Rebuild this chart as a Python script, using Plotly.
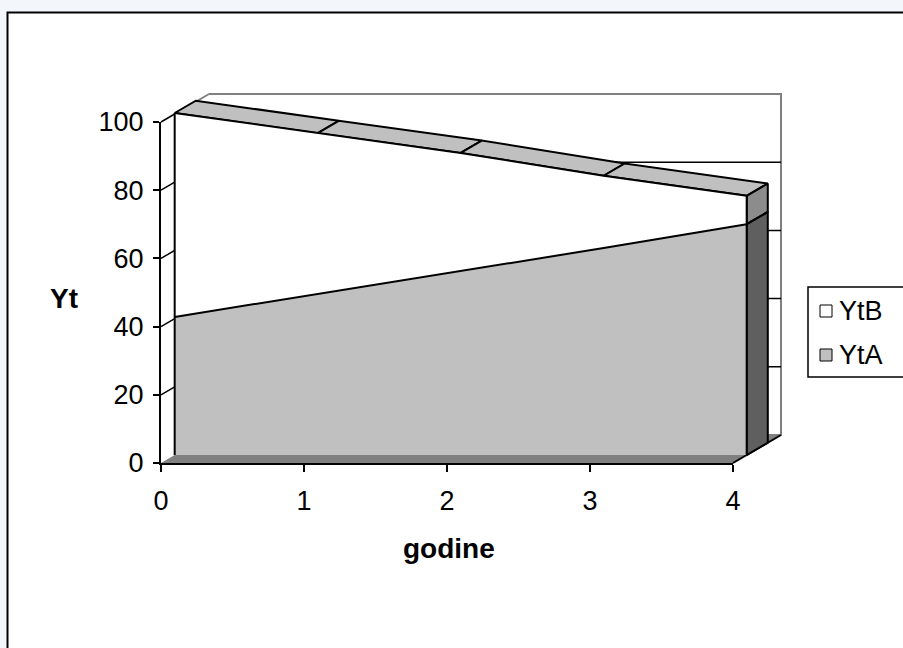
import plotly.graph_objects as go

# ---- data -------------------------------------------------------------
years = [0, 1, 2, 3, 4]
YtA = [40.5, 47.2, 53.8, 60.7, 67.7]
YtB = [59.8, 47.2, 34.8, 21.2, 8.3]
y_ticks = [0, 20, 40, 60, 80, 100]
series_names = ["YtB", "YtA"]

# ---- page geometry ----------------------------------------------------
W, H = 903, 648
AX_LEFT, AX_RIGHT = 161, 733      # category axis 0 .. 4
AX_BOTTOM, AX_TOP = 463, 122      # value axis 0 .. 100
SX = (AX_RIGHT - AX_LEFT) / (years[-1] - years[0])
SY = (AX_BOTTOM - AX_TOP) / (y_ticks[-1] - y_ticks[0])

# oblique depth vector of the 3-D box (full depth), in data units
DX = 48 / SX
DY = 28 / SY
D0, D1 = 0.285, 0.725             # front / back of the area series

LIGHT = "#c0c0c0"
SIDE_A = "#5f5f5f"
SIDE_B = "#8c8c8c"
FLOOR = "#808080"
WALL_EDGE = "#808080"

YMAX = y_ticks[-1]
X0, X1 = years[0], years[-1]
total = [a + b for a, b in zip(YtA, YtB)]


def P(x, y, d):
    return x + d * DX, y + d * DY


fig = go.Figure()


def poly(pts, fill):
    xs = [p[0] for p in pts] + [pts[0][0]]
    ys = [p[1] for p in pts] + [pts[0][1]]
    fig.add_trace(go.Scatter(x=xs, y=ys, mode="lines", fill="toself",
                             fillcolor=fill, line=dict(width=0),
                             hoverinfo="skip", showlegend=False))


def line(pts, color="black", width=2):
    fig.add_trace(go.Scatter(x=[p[0] for p in pts], y=[p[1] for p in pts],
                             mode="lines", line=dict(color=color, width=width),
                             hoverinfo="skip", showlegend=False))


# walls and floor
poly([P(X0, 0, 1), P(X1, 0, 1), P(X1, YMAX, 1), P(X0, YMAX, 1)], "white")
poly([P(X0, 0, 0), P(X0, 0, 1), P(X0, YMAX, 1), P(X0, YMAX, 0)], "white")
poly([P(X0, 0, 0), P(X1, 0, 0), P(X1, 0, 1), P(X0, 0, 1)], FLOOR)
line([P(X0, YMAX, 1), P(X1, YMAX, 1), P(X1, 0, 1), P(X0, 0, 1)], WALL_EDGE, 2)
line([P(X0, YMAX, D0), P(X0, YMAX, 1)], WALL_EDGE, 2)
line([P(X1, 0, 0), P(X1, 0, 1)], "black", 2)

# gridlines on the back wall and the side wall
for v in y_ticks[1:-1]:
    line([P(X0, v, 1), P(X1, v, 1)], "black", 1.5)
for v in y_ticks[1:]:
    line([P(X0, v, 0), P(X0, v, D0)], "black", 1.5)

# top surface of the stacked total
for i in range(len(years) - 1):
    pts = [P(years[i], total[i], D0), P(years[i + 1], total[i + 1], D0),
           P(years[i + 1], total[i + 1], D1), P(years[i], total[i], D1)]
    poly(pts, LIGHT)
    line(pts + [pts[0]])

# right-hand side faces
xe = years[-1]
side_a = [P(xe, 0, D0), P(xe, YtA[-1], D0), P(xe, YtA[-1], D1), P(xe, 0, D1)]
side_b = [P(xe, YtA[-1], D0), P(xe, total[-1], D0),
          P(xe, total[-1], D1), P(xe, YtA[-1], D1)]
poly(side_a, SIDE_A)
poly(side_b, SIDE_B)
line(side_a + [side_a[0]])
line(side_b + [side_b[0]])

# front faces
front_a = [P(years[0], 0, D0)] + [P(x, v, D0) for x, v in zip(years, YtA)] + [P(years[-1], 0, D0)]
poly(front_a, LIGHT)
front_b = [P(x, v, D0) for x, v in zip(years, YtA)] + \
          [P(x, v, D0) for x, v in zip(years[::-1], total[::-1])]
poly(front_b, "white")
line([P(x, v, D0) for x, v in zip(years, YtA)])
line([P(x, v, D0) for x, v in zip(years, total)])
line([P(years[0], 0, D0), P(years[0], total[0], D0)])
line([P(years[-1], 0, D0), P(years[-1], total[-1], D0)])

# anchor trace for the front axes pair
fig.add_trace(go.Scatter(x=[None], y=[None], xaxis="x2", yaxis="y2",
                         mode="markers", hoverinfo="skip", showlegend=False))

FONT = "Liberation Sans, Arial, sans-serif"
FS = 27

# legend box, swatches and labels (box runs past the right edge)
LEG_L, LEG_T, LEG_B = 808, 287, 377
legend_fill = {"YtB": "white", "YtA": LIGHT}
legend_rows = {"YtB": 311, "YtA": 355}
shapes = [
    dict(type="rect", xref="paper", yref="paper",
         x0=7.5 / W, x1=1.05, y0=-0.05, y1=1 - 12.5 / H,
         line=dict(color="black", width=2), fillcolor="white", layer="below"),
    dict(type="rect", xref="paper", yref="paper",
         x0=LEG_L / W, x1=1.05, y0=1 - LEG_B / H, y1=1 - LEG_T / H,
         line=dict(color="black", width=1.5), fillcolor="white"),
]
annotations = [
    dict(text="<b>Yt</b>", xref="paper", yref="paper", x=64 / W,
         y=1 - 298 / H, xanchor="center", yanchor="middle",
         showarrow=False, font=dict(size=FS + 1)),
    dict(text="<b>godine</b>", xref="paper", yref="paper", x=449 / W,
         y=1 - 548 / H, xanchor="center", yanchor="middle",
         showarrow=False, font=dict(size=FS + 1)),
]
for name in series_names:
    cy = legend_rows[name]
    shapes.append(dict(type="rect", xref="paper", yref="paper",
                       x0=820 / W, x1=832 / W,
                       y0=1 - (cy + 6) / H, y1=1 - (cy - 6) / H,
                       line=dict(color="black", width=1),
                       fillcolor=legend_fill[name]))
    annotations.append(dict(text=name, xref="paper", yref="paper",
                            x=837 / W, y=1 - cy / H, xanchor="left",
                            yanchor="middle", showarrow=False,
                            font=dict(size=FS)))

fig.update_layout(
    width=W, height=H,
    margin=dict(l=0, r=0, t=0, b=0, autoexpand=False),
    paper_bgcolor="#f3f7fb",
    plot_bgcolor="rgba(0,0,0,0)",
    font=dict(family=FONT, size=FS, color="black"),
    showlegend=False,
    xaxis=dict(domain=[0, 1], range=[-AX_LEFT / SX, (W - AX_LEFT) / SX],
               visible=False, fixedrange=True, automargin=False),
    yaxis=dict(domain=[0, 1],
               range=[-(H - AX_BOTTOM) / SY, AX_BOTTOM / SY],
               visible=False, fixedrange=True, automargin=False),
    xaxis2=dict(domain=[AX_LEFT / W, AX_RIGHT / W], range=[X0, X1],
                anchor="y2", tickvals=years, showline=True, linecolor="black",
                linewidth=2, ticks="outside", ticklen=7, tickwidth=2,
                tickcolor="black", showgrid=False, zeroline=False,
                ticklabelstandoff=6, fixedrange=True, automargin=False),
    yaxis2=dict(domain=[(H - AX_BOTTOM) / H, (H - AX_TOP) / H],
                range=[y_ticks[0], y_ticks[-1]], anchor="x2",
                tickvals=y_ticks, showline=True, linecolor="black",
                linewidth=2, ticks="outside", ticklen=6, tickwidth=2,
                tickcolor="black", showgrid=False, zeroline=False,
                ticklabelstandoff=4, fixedrange=True, automargin=False),
    shapes=shapes,
    annotations=annotations,
)

fig.write_html("out.html")
